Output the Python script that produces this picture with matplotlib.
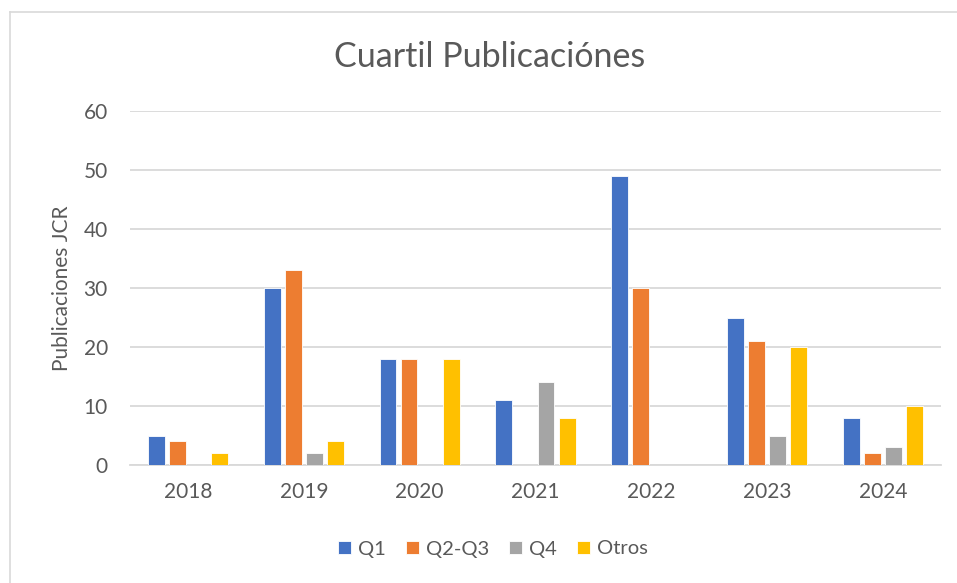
import matplotlib.pyplot as plt
import numpy as np

plt.rcParams.update({"font.family": ["Lato", "DejaVu Sans"]})

years = ["2018", "2019", "2020", "2021", "2022", "2023", "2024"]
q1 = [5, 30, 18, 11, 49, 25, 8]
q2q3 = [4, 33, 18, 0, 30, 21, 2]
q4 = [0, 2, 0, 14, 0, 5, 3]
otros = [2, 4, 18, 8, 0, 20, 10]

series = [("Q1", q1, "#4472C4"), ("Q2-Q3", q2q3, "#ED7D31"),
          ("Q4", q4, "#A5A5A5"), ("Otros", otros, "#FFC000")]

fig = plt.figure(figsize=(9.57, 5.83), dpi=100)
ax = fig.add_axes([130 / 957, 1 - 465 / 583, 811 / 957, 354 / 583])

x = np.arange(len(years))
w = 0.145
step = 0.182
for i, (name, vals, col) in enumerate(series):
    ax.bar(x + (i - 1.5) * step, vals, width=w, color=col, label=name,
           edgecolor="white", linewidth=0.6, zorder=3)

ax.set_xlim(-0.5, len(years) - 0.5)
ax.set_ylim(0, 60)
ax.set_yticks(range(0, 61, 10))
ax.set_xticks(x)
ax.set_xticklabels(years)
ax.grid(axis="y", color="#D9D9D9", lw=1.3, zorder=0)
for s in ["top", "right", "left"]:
    ax.spines[s].set_visible(False)
ax.spines["bottom"].set_color("#D9D9D9")
ax.spines["bottom"].set_linewidth(1.3)
ax.tick_params(length=0, labelsize=15, colors="#595959", pad=12)
ax.tick_params(axis="y", pad=16)
ax.set_ylabel("Publicaciones JCR", fontsize=15, color="#595959", labelpad=8)

fig.text(490 / 957, 1 - 57 / 583, "Cuartil Publicaciónes", ha="center", va="center",
         fontsize=24.5, color="#595959")

leg = fig.legend(loc="center", bbox_to_anchor=(493 / 957, 1 - 549 / 583), ncol=4,
                 frameon=False, fontsize=14.5, handlelength=0.65, handleheight=0.65,
                 handletextpad=0.35, columnspacing=1.0)
for t in leg.get_texts():
    t.set_color("#595959")

# chart frame
fig.add_artist(plt.Line2D([10 / 957, 10 / 957], [0, 1 - 12 / 583], color="#D9D9D9", lw=1.2))
fig.add_artist(plt.Line2D([10 / 957, 1], [1 - 12 / 583, 1 - 12 / 583], color="#D9D9D9", lw=1.2))

fig.savefig("out.png", dpi=100, facecolor="white")
